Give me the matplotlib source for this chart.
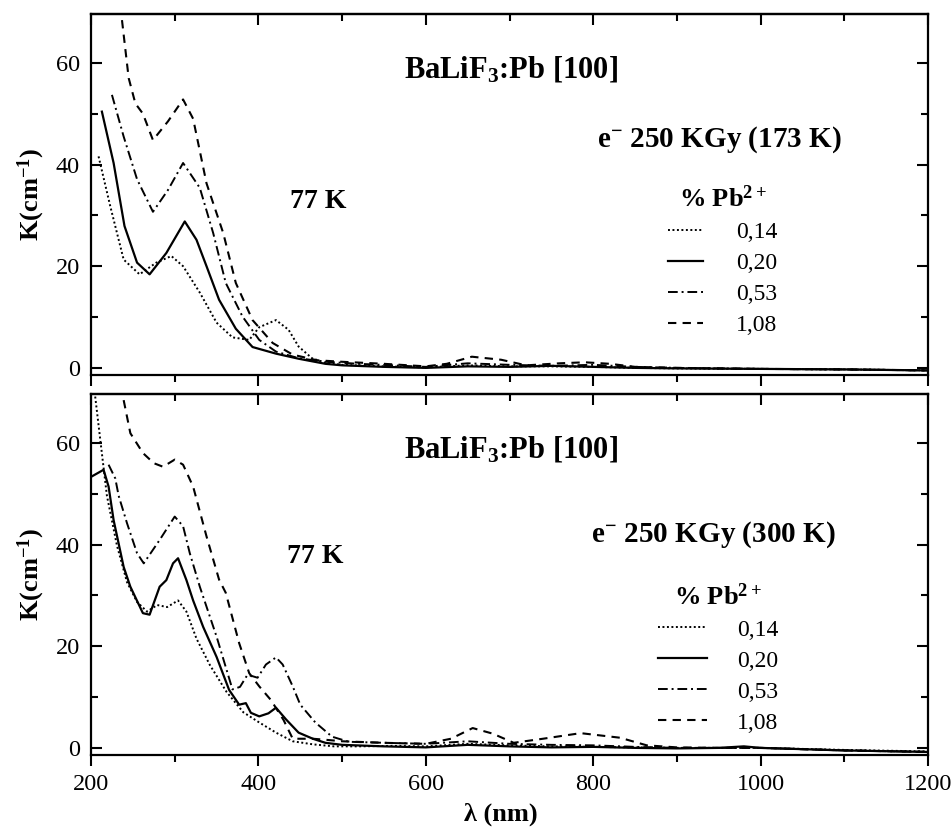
import matplotlib
matplotlib.use('Agg')
import matplotlib.pyplot as plt
from matplotlib.ticker import MultipleLocator, NullFormatter

plt.rcParams['font.family'] = 'Liberation Serif'
plt.rcParams['mathtext.fontset'] = 'custom'
plt.rcParams['mathtext.rm'] = 'Liberation Serif:bold'
plt.rcParams['mathtext.bf'] = 'Liberation Serif:bold'
plt.rcParams['mathtext.it'] = 'Liberation Serif:bold'
plt.rcParams['axes.linewidth'] = 1.6

conc_labels = ['0,14', '0,20', '0,53', '1,08']
temps = ['173 K', '300 K']

# upper panel: irradiated at 173 K
top_x_014 = [209, 223, 239, 258, 278, 296, 310, 330, 350, 369, 389, 401, 421, 436, 448, 464, 480, 500, 550,
             600, 650, 700, 750, 800, 850, 900, 1000, 1100, 1200]
top_k_014 = [41.6, 31.8, 21.3, 18.4, 20.7, 22.0, 20.0, 14.8, 8.9, 6.0, 5.5, 8.0, 9.4, 7.5, 4.2, 1.9, 1.0, 0.6, 0.3,
             0.1, 0.5, 0.3, 0.3, 0.2, 0.0, -0.1, -0.2, -0.3, -0.5]
top_x_020 = [213, 227, 240, 255, 270, 290, 312, 326, 338, 353, 373, 393, 421, 448, 480, 500, 550, 600, 650, 700,
             750, 800, 850, 900, 1000, 1100, 1200]
top_k_020 = [50.4, 40.3, 27.9, 20.7, 18.4, 22.6, 28.8, 25.2, 20.0, 13.4, 7.7, 4.1, 2.8, 1.8, 0.8, 0.5, 0.2, 0.0,
             0.3, 0.2, 0.4, 0.2, 0.0, -0.1, -0.2, -0.3, -0.5]
top_x_053 = [225, 239, 255, 274, 292, 310, 330, 346, 361, 381, 401, 421, 448, 480, 520, 560, 600, 650, 700, 750,
             800, 850, 900, 1000, 1100, 1200]
top_k_053 = [53.7, 45.5, 37.1, 30.7, 35.0, 40.3, 35.4, 26.5, 16.7, 10.1, 5.5, 3.2, 1.9, 1.2, 0.8, 0.5, 0.2, 0.9,
             0.6, 0.4, 0.6, 0.2, 0.0, -0.2, -0.3, -0.5]
top_x_108 = [237, 245, 253, 262, 274, 292, 310, 322, 338, 358, 373, 393, 417, 441, 470, 500, 550, 600, 625, 655,
             690, 720, 760, 790, 820, 850, 900, 1000, 1100, 1200]
top_k_108 = [68.4, 57.0, 52.0, 50.0, 44.8, 48.5, 52.8, 49.0, 36.3, 26.5, 16.7, 9.4, 4.9, 2.6, 1.5, 1.2, 0.8, 0.3,
             0.8, 2.2, 1.6, 0.5, 0.9, 1.1, 0.8, 0.2, 0.0, -0.2, -0.3, -0.5]

# lower panel: irradiated at 300 K
bot_x_014 = [205, 212, 219, 231, 243, 255, 267, 279, 291, 304, 314, 326, 342, 362, 382, 401, 421, 441, 465, 490,
             520, 560, 600, 650, 700, 750, 800, 850, 900, 1000, 1100, 1200]
bot_k_014 = [69.1, 59.3, 49.6, 39.8, 32.6, 28.7, 26.8, 28.1, 27.7, 29.0, 26.8, 21.5, 16.3, 11.0, 7.0, 5.0, 3.0,
             1.3, 0.7, 0.3, 0.3, 0.4, 0.3, 0.8, 0.5, 0.3, 0.2, 0.1, 0.0, 0.0, -0.4, -0.7]
bot_x_020 = [201, 215, 221, 227, 239, 247, 262, 270, 282, 290, 298, 304, 314, 322, 334, 350, 365, 377, 385, 391,
             401, 412, 421, 433, 448, 465, 480, 500, 550, 600, 650, 700, 750, 800, 850, 900, 950, 980, 1000, 1100, 1200]
bot_k_020 = [53.4, 54.7, 51.4, 44.8, 35.6, 31.7, 26.5, 26.2, 31.7, 33.0, 36.3, 37.3, 33.0, 29.0, 23.8, 17.9, 11.4,
             8.5, 8.8, 6.9, 6.2, 6.8, 7.9, 5.6, 3.0, 1.8, 1.0, 0.6, 0.3, 0.1, 0.6, 0.3, 0.1, 0.2, 0.0, -0.1, 0.0,
             0.3, 0.0, -0.5, -0.8]
bot_x_053 = [221, 229, 233, 243, 255, 263, 282, 300, 310, 318, 330, 350, 369, 378, 387, 399, 409, 421, 429, 441,
             450, 468, 488, 508, 550, 600, 650, 700, 750, 800, 850, 900, 1000, 1100, 1200]
bot_k_053 = [55.7, 53.0, 49.6, 44.2, 38.3, 36.3, 40.9, 45.5, 43.6, 38.3, 31.7, 21.9, 11.5, 12.0, 14.4, 13.8, 16.4,
             17.8, 16.4, 12.1, 8.5, 5.0, 2.2, 1.2, 1.0, 0.8, 1.3, 0.8, 0.6, 0.5, 0.2, 0.0, 0.0, -0.5, -0.8]
bot_x_108 = [239, 247, 262, 275, 286, 300, 310, 322, 338, 353, 361, 377, 389, 401, 415, 430, 441, 465, 480, 500,
             550, 600, 630, 656, 680, 705, 740, 785, 832, 864, 900, 950, 1000, 1100, 1200]
bot_k_108 = [68.4, 61.9, 58.0, 56.0, 55.3, 56.7, 55.7, 51.4, 41.6, 33.1, 30.5, 20.6, 14.7, 12.1, 9.4, 5.5, 1.8,
             1.8, 1.6, 1.3, 1.0, 0.8, 1.8, 3.9, 2.8, 1.0, 1.8, 2.9, 2.0, 0.5, 0.1, 0.0, 0.0, -0.5, -0.8]

line_styles = [(0, (1, 1.3)), '-', (0, (5, 2, 1, 2)), (0, (4, 3))]
line_widths = [1.4, 1.6, 1.4, 1.5]

fig = plt.figure(figsize=(9.52, 8.35), dpi=100)
ax1 = fig.add_axes([0.0956, 0.5509, 0.8792, 0.4323])
ax2 = fig.add_axes([0.0956, 0.0958, 0.8792, 0.4323])

panels = [
    (ax1, [(top_x_014, top_k_014), (top_x_020, top_k_020), (top_x_053, top_k_053), (top_x_108, top_k_108)]),
    (ax2, [(bot_x_014, bot_k_014), (bot_x_020, bot_k_020), (bot_x_053, bot_k_053), (bot_x_108, bot_k_108)]),
]

for i, (ax, series) in enumerate(panels):
    for (x, k), ls, lw, lab in zip(series, line_styles, line_widths, conc_labels):
        ax.plot(x, k, color='black', ls=ls, lw=lw, label=lab)
    ax.set_xlim(200, 1200)
    ax.set_ylim(-1.4, 69.6)
    ax.xaxis.set_major_locator(MultipleLocator(200))
    ax.xaxis.set_minor_locator(MultipleLocator(100))
    ax.yaxis.set_major_locator(MultipleLocator(20))
    ax.yaxis.set_minor_locator(MultipleLocator(10))
    ax.tick_params(axis='y', which='both', direction='in', left=True, right=True, labelsize=17.5, pad=8)
    ax.tick_params(axis='x', which='both', direction='out', top=False, labelsize=17.5, pad=6)
    ax.tick_params(which='major', length=8, width=1.5)
    ax.tick_params(which='minor', length=5, width=1.5)

    sec = ax.secondary_xaxis('top')
    sec.xaxis.set_major_locator(MultipleLocator(200))
    sec.xaxis.set_minor_locator(MultipleLocator(100))
    sec.xaxis.set_major_formatter(NullFormatter())
    sec.tick_params(which='both', direction='in', width=1.5)
    sec.tick_params(which='major', length=8)
    sec.tick_params(which='minor', length=5)

    ax.set_ylabel('K(cm$^{-1}$)', fontsize=19, fontweight='bold')
    ax.yaxis.set_label_coords(-0.053, 0.5)

    ax.text(0.3735, 0.823, 'BaLiF$_3$:Pb [100]', transform=ax.transAxes, fontsize=22, fontweight='bold')
    ax.text([0.605, 0.597][i], [0.632, 0.590][i], 'e$^{-}$ 250 KGy (' + temps[i] + ')',
            transform=ax.transAxes, fontsize=21, fontweight='bold')
    ax.text([0.238, 0.234][i], [0.4626, 0.532][i], '77 K', transform=ax.transAxes, fontsize=20,
            fontweight='bold')

    ax.legend(loc='upper left', bbox_to_anchor=([0.689, 0.677][i], [0.524, 0.476][i]), frameon=False,
              borderpad=0, borderaxespad=0, handlelength=[1.5, 2.1][i], handletextpad=[1.4, 1.25][i],
              labelspacing=0.4, prop={'family': 'Liberation Serif', 'size': 17},
              title='% Pb$^{2+}$', title_fontproperties={'family': 'Liberation Serif', 'weight': 'bold', 'size': 19})

ax1.tick_params(axis='x', labelbottom=False)
ax2.set_xlabel('λ (nm)', fontsize=19, fontweight='bold')
ax2.xaxis.set_label_coords(0.49, -0.133)

fig.savefig('out.png', dpi=100)
